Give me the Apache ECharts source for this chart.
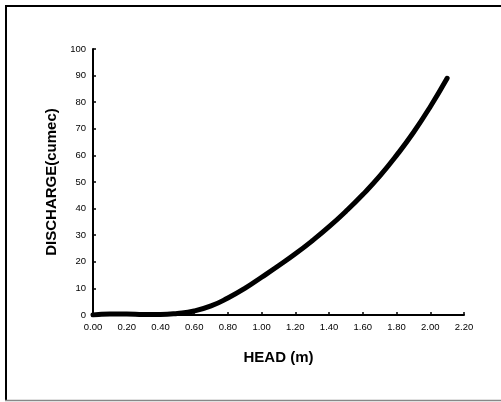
<!DOCTYPE html>
<html>
<head>
<meta charset="utf-8">
<script src="https://cdn.jsdelivr.net/npm/echarts@6/dist/echarts.min.js"></script>
<style>
  html, body { margin: 0; padding: 0; background: #fff; }
  #chart { width: 501px; height: 402px; }
</style>
</head>
<body>
<div id="chart"></div>
<script>
// head (m) and discharge (cumec)
var head = [0.0, 0.1, 0.2, 0.3, 0.4, 0.5, 0.6, 0.7, 0.8, 0.9, 1.0,
            1.1, 1.2, 1.3, 1.4, 1.5, 1.6, 1.7, 1.8, 1.9, 2.0, 2.1];
var discharge = [0, 0.4, 0.4, 0.2, 0.2, 0.6, 1.5, 3.4, 6.4, 10.0, 14.2,
                 18.5, 23.0, 27.9, 33.2, 39.0, 45.3, 52.2, 60.0, 68.6, 78.3, 89.0];

var xTitle = 'HEAD (m)';
var yTitle = 'DISCHARGE(cumec)';

var points = head.map(function (h, i) { return [h, discharge[i]]; });

var myChart = echarts.init(document.getElementById('chart'));

var axisText = { color: '#000', fontFamily: 'Liberation Sans', fontSize: 9.5 };
var nameText = { color: '#000', fontFamily: 'Liberation Sans', fontSize: 15, fontWeight: 'bold' };

myChart.setOption({
  animation: false,
  backgroundColor: '#fff',
  // outer frame (top / left black, bottom grey)
  graphic: [
    { type: 'line', shape: { x1: 5, y1: 6, x2: 501, y2: 6 }, style: { stroke: '#000', lineWidth: 2 } },
    { type: 'line', shape: { x1: 6, y1: 5, x2: 6, y2: 400 }, style: { stroke: '#000', lineWidth: 2 } },
    { type: 'line', shape: { x1: 5, y1: 400.5, x2: 501, y2: 400.5 }, style: { stroke: '#888', lineWidth: 1.5 } }
  ],
  grid: { left: 93, right: 37, top: 49, bottom: 87 },
  xAxis: {
    type: 'value',
    min: 0, max: 2.2, interval: 0.2,
    name: xTitle,
    nameLocation: 'middle',
    nameGap: 35,
    nameTextStyle: nameText,
    axisLine: { lineStyle: { color: '#000', width: 2 } },
    axisTick: { show: true, inside: true, length: 3, lineStyle: { color: '#000', width: 1.5 } },
    axisLabel: Object.assign({ margin: 7, formatter: function (v) { return v.toFixed(2); } }, axisText),
    splitLine: { show: false }
  },
  yAxis: {
    type: 'value',
    min: 0, max: 100, interval: 10,
    name: yTitle,
    nameLocation: 'middle',
    nameGap: 33,
    nameTextStyle: nameText,
    axisLine: { show: true, lineStyle: { color: '#000', width: 2 } },
    axisTick: { show: true, inside: true, length: 3, lineStyle: { color: '#000', width: 1.5 } },
    axisLabel: Object.assign({ margin: 7 }, axisText),
    splitLine: { show: false }
  },
  series: [{
    type: 'line',
    data: points,
    smooth: true,
    symbol: 'none',
    lineStyle: { color: '#000', width: 5, cap: 'round', join: 'round' }
  }]
});
</script>
</body>
</html>
